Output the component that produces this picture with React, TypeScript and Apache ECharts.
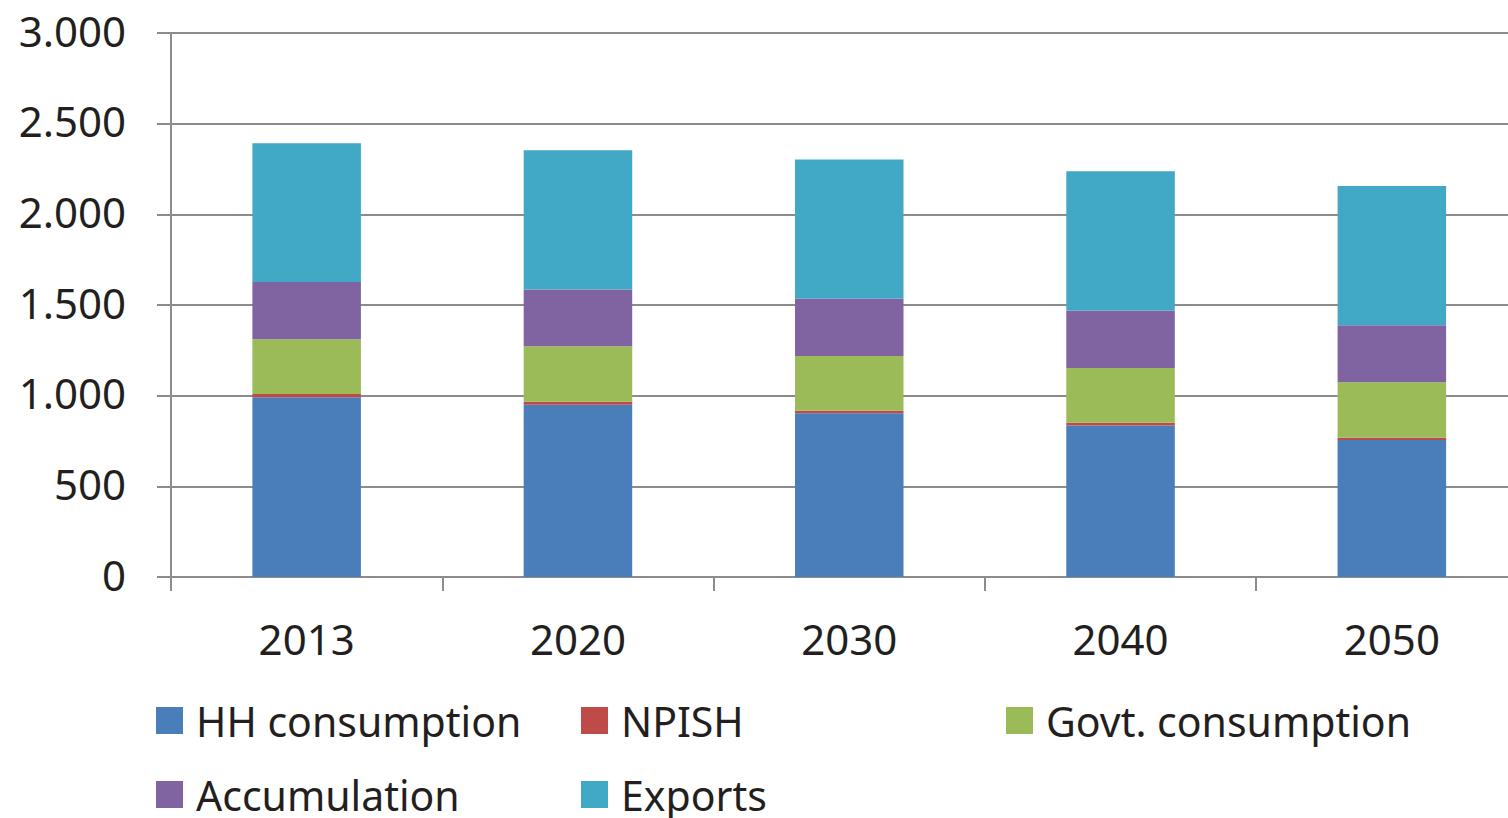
import React, { useEffect, useRef } from "react";
import * as echarts from "echarts";

const categories = ["2013", "2020", "2030", "2040", "2050"];
const hhConsumption = [991, 950, 903, 836, 755];
const npish = [18, 17, 14, 15, 13];
const govtConsumption = [302, 305, 302, 302, 306];
const accumulation = [316, 313, 317, 316, 314];
const exportsData = [765, 768, 767, 768, 768];

const seriesNames = ["HH consumption", "NPISH", "Govt. consumption", "Accumulation", "Exports"];
const seriesColors = ["#4A7EBB", "#BE4B48", "#9BBB59", "#8064A2", "#41A9C6"];
const seriesValues = [hhConsumption, npish, govtConsumption, accumulation, exportsData];

const FONT = "'Noto Sans', sans-serif";
const TEXT_COLOR = "#231F20";
const AXIS_COLOR = "#8C8C8C";

const legendPos = [
  { left: 156, top: 700 },
  { left: 581, top: 700 },
  { left: 1006, top: 700 },
  { left: 156, top: 774 },
  { left: 581, top: 774 },
];

export default function App() {
  const ref = useRef<HTMLDivElement>(null);
  useEffect(() => {
    if (!ref.current) return;
    const chart = echarts.init(ref.current, undefined, { renderer: "svg" });
    chart.setOption({
      animation: false,
      backgroundColor: "#ffffff",
      textStyle: { fontFamily: FONT },
      grid: { left: 171, right: 0.5, top: 33, bottom: 241, containLabel: false },
      legend: seriesNames.map((name, i) => ({
        data: [name],
        left: legendPos[i].left,
        top: legendPos[i].top,
        icon: "rect",
        itemWidth: 27,
        itemHeight: 27,
        padding: 0,
        selectedMode: false,
        textStyle: {
          fontFamily: FONT,
          fontSize: 41,
          lineHeight: 36,
          color: TEXT_COLOR,
          padding: [0, 0, 0, 8],
        },
      })),
      xAxis: {
        type: "category",
        data: categories,
        boundaryGap: true,
        axisLine: { show: true, lineStyle: { color: AXIS_COLOR, width: 2 } },
        axisTick: { show: true, length: 14, alignWithLabel: false, lineStyle: { color: AXIS_COLOR, width: 2 } },
        axisLabel: { fontFamily: FONT, fontSize: 42, color: TEXT_COLOR, margin: 40 },
      },
      yAxis: {
        type: "value",
        min: 0,
        max: 3000,
        interval: 500,
        axisLine: { show: true, lineStyle: { color: AXIS_COLOR, width: 2 } },
        axisTick: { show: true, length: 14, lineStyle: { color: AXIS_COLOR, width: 2 } },
        splitLine: { show: true, lineStyle: { color: AXIS_COLOR, width: 2 } },
        axisLabel: {
          fontFamily: FONT,
          fontSize: 42,
          color: TEXT_COLOR,
          margin: 45,
          verticalAlign: "bottom",
          lineHeight: 6,
          formatter: (v: number) => String(v).replace(/\B(?=(\d{3})+(?!\d))/g, "."),
        },
      },
      series: seriesNames.map((name, i) => ({
        name,
        type: "bar",
        stack: "total",
        data: seriesValues[i],
        barWidth: "40%",
        itemStyle: { color: seriesColors[i], borderWidth: 0 },
      })),
    });
    return () => chart.dispose();
  }, []);
  return (
    <div style={{ position: "absolute", left: 0, top: 0, width: 1508, height: 818, overflow: "hidden", background: "#fff" }}>
      <div ref={ref} style={{ width: 1528, height: 818 }} />
    </div>
  );
}
